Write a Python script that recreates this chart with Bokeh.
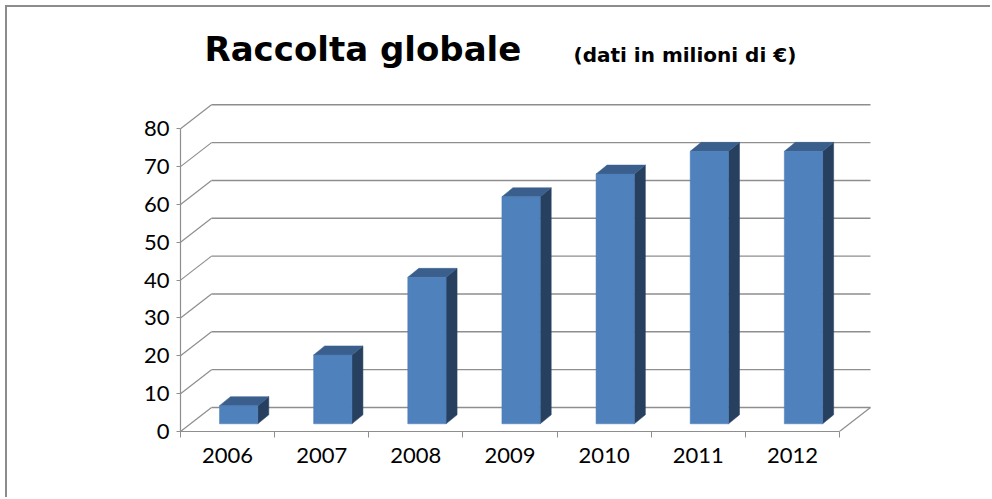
from bokeh.plotting import figure
from bokeh.models import Range1d, FixedTicker, Label
from bokeh.embed import file_html
from bokeh.resources import INLINE

# ---------------- data ----------------
years = ["2006", "2007", "2008", "2009", "2010", "2011", "2012"]
raccolta = [4.8, 18.2, 38.7, 60.0, 66.0, 72.0, 72.0]
y_ticks = [0, 10, 20, 30, 40, 50, 60, 70, 80]
title_main = "Raccolta globale"
title_sub = "(dati in milioni di €)"

# ---------------- geometry (pixels) ----------------
PX_X = 94.14      # pixels per category
PX_Y = 3.784      # pixels per value unit
OFF = 7           # border offset of the figure
FIG_W = 992 - OFF
FIG_H = 499 - OFF
FRAME_L = 180 - OFF
FRAME_T = 14 - OFF
FRAME_R = 872 - OFF
FRAME_B = 431 - OFF
FRAME_W = FRAME_R - FRAME_L
FRAME_H = FRAME_B - FRAME_T
n = len(years)
x_end = FRAME_W / PX_X
y_end = FRAME_H / PX_Y

wall_dx = 31 / PX_X   # depth offset of back wall
wall_dy = 24 / PX_Y
bar_off = 39 / PX_X   # front-left of bar from category start
bar_w = 38.3 / PX_X
bar_base = 7.7 / PX_Y
bar_dx = 11 / PX_X
bar_dy = 9 / PX_Y

GRID = "#8e8e8e"
FONT = "Lato"
TFONT = "DejaVu Sans"

p = figure(width=FIG_W, height=FIG_H,
           x_range=Range1d(0, x_end), y_range=Range1d(0, y_end),
           output_backend="svg", toolbar_location=None,
           min_border_left=FRAME_L, min_border_right=FIG_W - FRAME_R,
           min_border_top=FRAME_T, min_border_bottom=FIG_H - FRAME_B)
p.outline_line_color = None
p.xgrid.visible = False
p.ygrid.visible = False
p.background_fill_color = "white"
p.border_fill_color = "white"
p.styles = {"border-left": "2px solid #8c8c8c", "border-top": "2px solid #8c8c8c",
            "margin-left": "5px", "margin-top": "5px"}

# ---------------- back wall grid ----------------
lo, hi = y_ticks[0], y_ticks[-1]
p.segment(x0=[wall_dx] * len(y_ticks), y0=[t + wall_dy for t in y_ticks],
          x1=[n + wall_dx] * len(y_ticks), y1=[t + wall_dy for t in y_ticks],
          line_color=GRID, line_width=1.4)
p.segment(x0=[0] * len(y_ticks), y0=y_ticks,
          x1=[wall_dx] * len(y_ticks), y1=[t + wall_dy for t in y_ticks],
          line_color=GRID, line_width=1.2)
# floor right edge
p.segment(x0=[n], y0=[lo], x1=[n + wall_dx], y1=[lo + wall_dy],
          line_color=GRID, line_width=1.2)

# ---------------- bars ----------------
lefts = [i + bar_off for i in range(n)]
rights = [l + bar_w for l in lefts]
tops = [bar_base + v for v in raccolta]

side_xs = [[r, r, r + bar_dx, r + bar_dx] for r in rights]
side_ys = [[bar_base, t, t + bar_dy, bar_base + bar_dy] for t in tops]
top_xs = [[l, r, r + bar_dx, l + bar_dx] for l, r in zip(lefts, rights)]
top_ys = [[t, t, t + bar_dy, t + bar_dy] for t in tops]

p.patches(side_xs, side_ys, fill_color="#284060", line_color="#284060", line_width=0.5)
p.patches(top_xs, top_ys, fill_color="#3b5f8d", line_color="#3b5f8d", line_width=0.5)
p.quad(left=lefts, right=rights, bottom=[bar_base] * n, top=tops,
       fill_color="#4f81bd", line_color="#4a7ab4", line_width=0.5)

# ---------------- axes ----------------
ya = p.yaxis[0]
ya.ticker = FixedTicker(ticks=y_ticks)
ya.bounds = (lo, hi)
ya.axis_line_color = GRID
ya.axis_line_width = 1.2
ya.major_tick_line_color = GRID
ya.major_tick_out = 4
ya.major_tick_in = 0
ya.minor_tick_line_color = None
ya.major_label_text_font = FONT
ya.major_label_text_font_size = "22px"
ya.major_label_text_color = "black"
ya.major_label_standoff = 7

xa = p.xaxis[0]
xa.ticker = FixedTicker(ticks=[i + 0.5 for i in range(n)], minor_ticks=list(range(n + 1)))
xa.bounds = (0, n)
xa.axis_line_color = GRID
xa.axis_line_width = 1.2
xa.major_tick_line_color = None
xa.major_tick_out = 6
xa.major_tick_in = 0
xa.minor_tick_line_color = GRID
xa.minor_tick_out = 6
xa.minor_tick_in = 0
xa.major_label_overrides = {i + 0.5: y for i, y in enumerate(years)}
xa.major_label_text_font = FONT
xa.major_label_text_font_size = "22px"
xa.major_label_text_color = "black"
xa.major_label_standoff = 10

# ---------------- title (inside the frame, screen units from frame corner) ----------------
p.add_layout(Label(x=204 - 180, y=383, x_units="screen", y_units="screen", text=title_main,
                   text_font=TFONT, text_font_style="bold", text_font_size="34px",
                   text_color="black", text_baseline="alphabetic"))
p.add_layout(Label(x=573 - 180, y=377, x_units="screen", y_units="screen", text=title_sub,
                   text_font=TFONT, text_font_style="bold", text_font_size="20px",
                   text_color="black", text_baseline="alphabetic"))

open("out.html", "w").write(file_html(p, INLINE))
